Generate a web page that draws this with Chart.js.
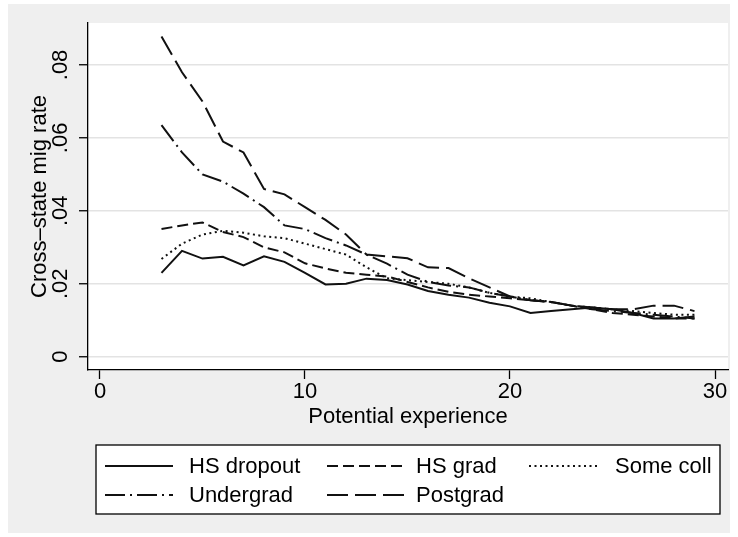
<!DOCTYPE html>
<html>
<head>
<meta charset="utf-8">
<script src="https://cdn.jsdelivr.net/npm/chart.js@4/dist/chart.umd.min.js"></script>
<style>
  html, body { margin: 0; padding: 0; background: #fff; }
  #wrap { width: 738px; height: 537px; }
</style>
</head>
<body>
<div id="wrap"><canvas id="mig" width="738" height="537"></canvas></div>
<script>
  // potential experience (years)
  var experience = [3, 4, 5, 6, 7, 8, 9, 10, 11, 12, 13, 14, 15, 16, 17, 18, 19, 20, 21, 22, 23, 24, 25, 26, 27, 28, 29];

  var hsDropout = [.023, .029, .0269, .0274, .025, .0275, .026, .023, .0198, .020, .0214, .021, .0198, .018,
    .017, .0162, .0148, .0138, .012, .0125, .013, .0135, .013, .012, .0105, .0105, .011];
  var hsGrad = [.035, .036, .0368, .0342, .0328, .030, .0286, .0256, .0242, .023, .0225, .022, .0205, .019,
    .0178, .017, .0165, .016, .0155, .015, .014, .013, .012, .0115, .011, .0105, .0105];
  var someColl = [.0268, .031, .0335, .0345, .034, .033, .0325, .031, .0295, .028, .0245, .0215, .021, .0205,
    .020, .019, .0175, .0165, .016, .015, .014, .0135, .013, .0125, .012, .0115, .0115];
  var undergrad = [.0635, .056, .050, .048, .0447, .041, .036, .035, .0325, .0305, .028, .0255, .0225, .0205,
    .0195, .019, .0175, .0165, .0155, .015, .014, .013, .0125, .012, .0115, .011, .0105];
  var postgrad = [.0878, .078, .070, .059, .056, .046, .0445, .041, .0375, .0335, .028, .0275, .027, .0245,
    .0243, .0215, .019, .0165, .0155, .015, .014, .0135, .013, .013, .014, .014, .0125];

  var xTicks = [0, 10, 20, 30];
  var yTicks = [0, .02, .04, .06, .08];

  var FONT = "'Liberation Sans', Arial, Helvetica, sans-serif";

  function points(values) {
    var out = [];
    for (var i = 0; i < values.length; i++) {
      out.push({ x: experience[i], y: values[i] });
    }
    return out;
  }

  function series(label, values, dash) {
    return {
      label: label,
      data: points(values),
      borderColor: '#111',
      borderWidth: 2,
      borderDash: dash,
      borderCapStyle: 'butt',
      pointRadius: 0,
      tension: 0,
      fill: false
    };
  }

  // grey graph region behind a white plot region
  var backdrop = {
    id: 'backdrop',
    beforeDraw: function(chart) {
      var ctx = chart.ctx;
      var a = chart.chartArea;
      ctx.save();
      ctx.fillStyle = '#fff';
      ctx.fillRect(0, 0, chart.width, chart.height);
      ctx.fillStyle = '#efefef';
      ctx.fillRect(8, 4, chart.width - 16, chart.height - 8);
      ctx.fillStyle = '#fff';
      ctx.fillRect(a.left, a.top, a.right - a.left, a.bottom - a.top);
      ctx.restore();
    }
  };

  // Stata style legend box: 3 columns, line sample then label
  var stataLegend = {
    id: 'stataLegend',
    afterDraw: function(chart) {
      var ctx = chart.ctx;
      var sets = chart.data.datasets;
      var cols = [{ x0: 105, x1: 173, tx: 189 }, { x0: 327, x1: 404, tx: 416 }, { x0: 529, x1: 600, tx: 615 }];
      var rows = [{ line: 466, text: 472.5 }, { line: 495, text: 501.5 }];
      ctx.save();
      ctx.fillStyle = '#fff';
      ctx.fillRect(96, 445, 624, 69);
      ctx.strokeStyle = '#000';
      ctx.lineWidth = 1.3;
      ctx.setLineDash([]);
      ctx.strokeRect(96, 445, 624, 69);
      ctx.font = '22px ' + FONT;
      ctx.textAlign = 'left';
      ctx.textBaseline = 'alphabetic';
      for (var i = 0; i < sets.length; i++) {
        var c = cols[i % 3];
        var r = rows[Math.floor(i / 3)];
        ctx.beginPath();
        ctx.setLineDash(sets[i].borderDash || []);
        ctx.lineWidth = 2;
        ctx.strokeStyle = '#111';
        ctx.moveTo(c.x0, r.line);
        ctx.lineTo(c.x1, r.line);
        ctx.stroke();
        ctx.setLineDash([]);
        ctx.fillStyle = '#000';
        ctx.fillText(sets[i].label, c.tx, r.text);
      }
      ctx.restore();
    }
  };

  var chart = new Chart(document.getElementById('mig'), {
    type: 'line',
    data: {
      datasets: [
        series('HS dropout', hsDropout, []),
        series('HS grad', hsGrad, [11, 5]),
        series('Some coll', someColl, [2, 3.5]),
        series('Undergrad', undergrad, [20, 5, 2, 5]),
        series('Postgrad', postgrad, [21, 7])
      ]
    },
    options: {
      responsive: false,
      animation: false,
      events: [],
      layout: { padding: { left: 0, top: 23, right: 10, bottom: 0 } },
      plugins: {
        legend: { display: false },
        tooltip: { enabled: false }
      },
      scales: {
        x: {
          type: 'linear',
          min: -0.585,
          max: 30.634,
          afterBuildTicks: function(scale) {
            scale.ticks = xTicks.map(function(v) { return { value: v }; });
          },
          afterFit: function(scale) { scale.height = 167; },
          grid: { drawOnChartArea: false, tickLength: 9, tickColor: '#000', tickWidth: 1.3 },
          border: { display: true, color: '#000', width: 1.3 },
          ticks: {
            padding: 0,
            color: '#000',
            font: { family: FONT, size: 22 },
            maxRotation: 0,
            callback: function(v) { return String(v); }
          },
          title: {
            display: true,
            text: 'Potential experience',
            color: '#000',
            font: { family: FONT, size: 22 },
            padding: { top: 0, bottom: 107 }
          }
        },
        y: {
          min: -0.00365,
          max: 0.0915,
          afterBuildTicks: function(scale) {
            scale.ticks = yTicks.map(function(v) { return { value: v }; });
          },
          afterFit: function(scale) { scale.width = 88; },
          grid: { color: '#e3e3e3', lineWidth: 1.5, tickLength: 9, tickColor: '#000', tickWidth: 1.3 },
          border: { display: true, color: '#000', width: 1.3 },
          ticks: {
            padding: 3,
            color: '#000',
            crossAlign: 'center',
            minRotation: 90,
            maxRotation: 90,
            font: { family: FONT, size: 22 },
            callback: function(v) { return v === 0 ? '0' : String(+v.toFixed(2)).replace('0.', '.'); }
          },
          title: {
            display: true,
            text: 'Cross\u2013state mig rate',
            color: '#000',
            font: { family: FONT, size: 22 },
            padding: { top: 27, bottom: 0 }
          }
        }
      }
    },
    plugins: [backdrop, stataLegend]
  });
</script>
</body>
</html>
